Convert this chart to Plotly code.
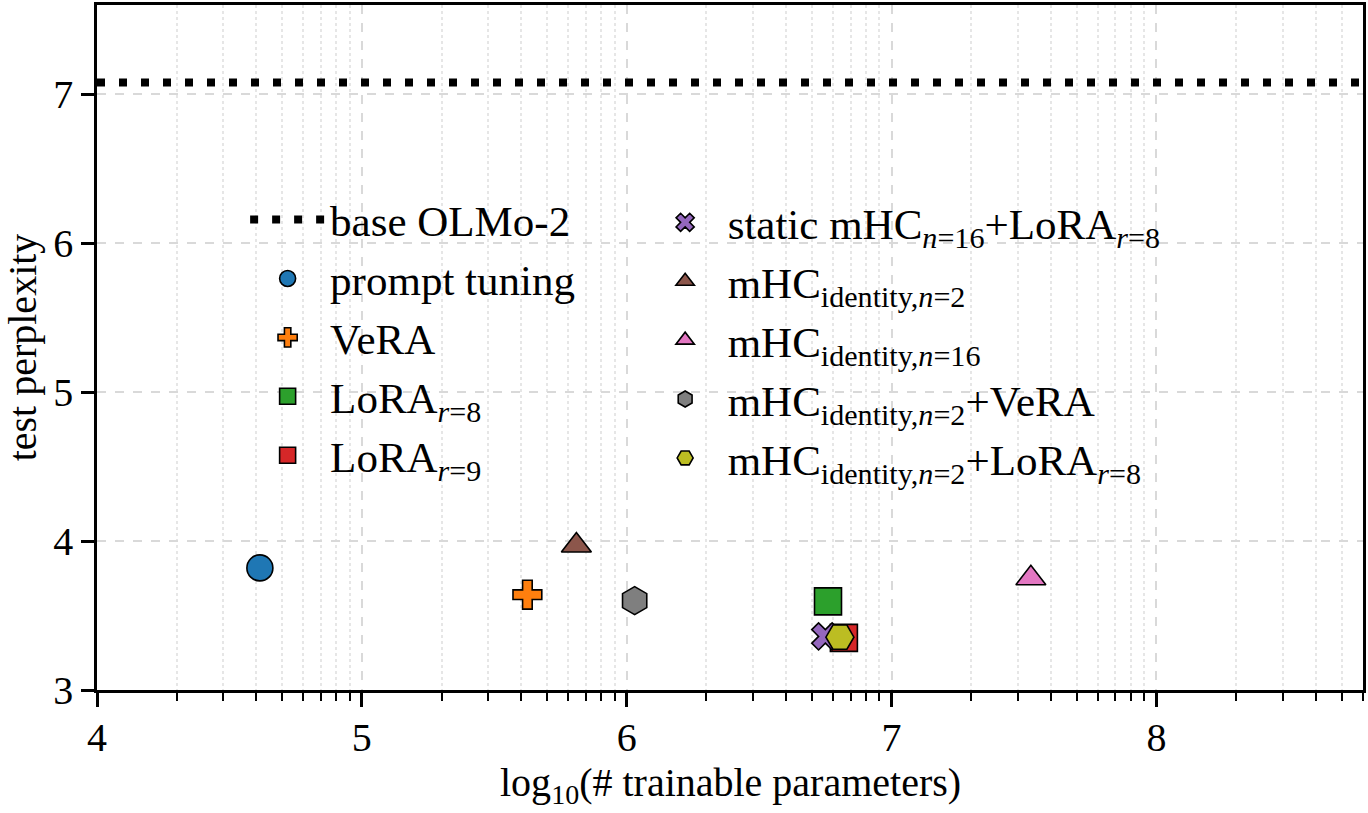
import numpy as np
import plotly.graph_objects as go

# ---- data ----
methods = [
    "prompt tuning",
    "VeRA",
    "LoRA<sub><i>r</i>=8</sub>",
    "LoRA<sub><i>r</i>=9</sub>",
    "static mHC<sub><i>n</i>=16</sub>+LoRA<sub><i>r</i>=8</sub>",
    "mHC<sub>identity,<i>n</i>=2</sub>",
    "mHC<sub>identity,<i>n</i>=16</sub>",
    "mHC<sub>identity,<i>n</i>=2</sub>+VeRA",
    "mHC<sub>identity,<i>n</i>=2</sub>+LoRA<sub><i>r</i>=8</sub>",
]
log_params = [4.615, 5.625, 6.76, 6.82, 6.75, 5.81, 7.526, 6.03, 6.805]
perplexity = [3.82, 3.64, 3.595, 3.35, 3.36, 3.97, 3.75, 3.60, 3.355]
colors = ["#1f77b4", "#ff7f0e", "#2ca02c", "#d62728", "#9467bd",
          "#8c564b", "#e377c2", "#7f7f7f", "#bcbd22"]
symbols = ["circle", "cross", "square", "square", "x",
           "triangle-up", "triangle-up", "hexagon", "hexagon2"]
sizes = [26, 24, 27, 27, 24, 26, 26, 28, 28]
legend_ids = ["legend"] * 4 + ["legend2"] * 5

base_label = "base OLMo-2"
base_ppl = 7.08
x_range = [4.0, 8.78]
y_range = [3.0, 7.6]
x_major = [4, 5, 6, 7, 8]
y_major = [3, 4, 5, 6, 7]
x_title = "log<sub>10</sub>(# trainable parameters)"
y_title = "test perplexity"

FONT = "Liberation Serif"

fig = go.Figure()

fig.add_trace(go.Scatter(
    x=x_range, y=[base_ppl, base_ppl], mode="lines", name=base_label,
    line=dict(color="black", width=8, dash="8px,14px"),
    legend="legend", hoverinfo="skip",
))

for name, xv, yv, c, s, sz, lg in zip(methods, log_params, perplexity,
                                      colors, symbols, sizes, legend_ids):
    fig.add_trace(go.Scatter(
        x=[xv], y=[yv], mode="markers", name=name, legend=lg,
        marker=dict(color=c, symbol=s, size=sz,
                    line=dict(color="black", width=1.6)),
    ))

minor_x = [n + np.log10(k) for n in range(4, 9) for k in range(2, 10)
           if n + np.log10(k) < x_range[1]]

fig.update_layout(
    width=1368, height=813,
    margin=dict(l=97, r=2, t=2, b=123),
    plot_bgcolor="white", paper_bgcolor="white",
    font=dict(family=FONT, size=40, color="black"),
    legend=dict(x=0.117, y=0.737, xanchor="left", yanchor="top",
                bgcolor="rgba(0,0,0,0)", borderwidth=0,
                font=dict(family=FONT, size=43), itemwidth=75,
                itemsizing="trace"),
    legend2=dict(x=0.431, y=0.733, xanchor="left", yanchor="top",
                 bgcolor="rgba(0,0,0,0)", borderwidth=0,
                 font=dict(family=FONT, size=43), itemwidth=75,
                 itemsizing="trace"),
    showlegend=True,
    annotations=[dict(text=x_title, xref="paper", yref="paper",
                      x=0.5, y=-0.138, xanchor="center", yanchor="middle",
                      showarrow=False, font=dict(family=FONT, size=40))],
)

fig.update_xaxes(
    range=x_range, tickvals=x_major, ticktext=[str(v) for v in x_major],
    showline=True, linecolor="black", linewidth=2.5, mirror=True,
    ticks="outside", ticklen=14, tickwidth=2.5, tickcolor="black",
    ticklabelstandoff=-4,
    showgrid=True, gridcolor="#d9d9d9", gridwidth=1.8, griddash="dash",
    zeroline=False,
    minor=dict(tickvals=minor_x, ticks="outside", ticklen=8, tickwidth=2,
               tickcolor="black", showgrid=True, gridcolor="#e6e6e6",
               gridwidth=1.5, griddash="dot"),
    tickfont=dict(family=FONT, size=40),
)
fig.update_yaxes(
    range=y_range, tickvals=y_major, ticktext=[str(v) for v in y_major],
    showline=True, linecolor="black", linewidth=2.5, mirror=True,
    ticks="outside", ticklen=13, tickwidth=2.5, tickcolor="black",
    showgrid=True, gridcolor="#d9d9d9", gridwidth=1.8, griddash="dash",
    zeroline=False,
    title=dict(text=y_title, font=dict(family=FONT, size=40), standoff=10),
    tickfont=dict(family=FONT, size=40),
)

fig.write_html("out.html")
